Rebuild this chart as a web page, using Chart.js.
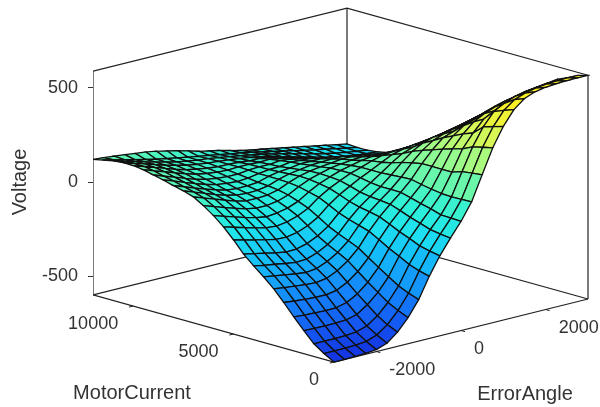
<!DOCTYPE html>
<html>
<head>
<meta charset="utf-8">
<title>Voltage surface</title>
<script src="https://cdn.jsdelivr.net/npm/chart.js@4"></script>
<style>
    html, body { margin: 0; background: #fff; }
    #wrap { width: 600px; height: 407px; }
</style>
</head>
<body>
<div id="wrap"><canvas id="graphCanvas" width="600" height="407"></canvas></div>
<script>
var motorCurrent = [0,500,1000,1500,2000,2500,3000,3500,4000,4500,5000,5500,6000,6500,7000,7500,8000,8500,9000,9500,10000,10500,11000,11500,12000];
var errorAngle = [-3000,-2750,-2500,-2250,-2000,-1750,-1500,-1250,-1000,-750,-500,-250,0,250,500,750,1000,1250,1500,1750,2000,2250,2500,2750,3000];
var voltageTicks = [-500, 0, 500];
var currentTicks = [0, 5000, 10000];
var angleTicks = [-2000, 0, 2000];

// one row per motorCurrent, one column per errorAngle
var voltage = [
    [-600,-600,-598,-596,-590,-570,-525,-462,-380,-270,-175,-95,-20,70,200,330,430,505,550,572,582,587,589,590,590],
    [-570,-570,-569,-567,-561,-541,-500,-439,-361,-256,-165,-88,-17,69,194,318,414,486,529,550,563,570,573,575,575],
    [-533,-533,-533,-531,-526,-508,-468,-411,-337,-237,-152,-79,-15,67,187,305,397,465,495,518,530,537,541,545,548],
    [-478,-480,-480,-480,-477,-462,-424,-372,-303,-208,-128,-61,2,70,170,280,350,410,440,465,485,495,505,515,525],
    [-420,-424,-426,-428,-427,-413,-381,-333,-268,-181,-107,-44,15,78,170,265,330,380,410,432,450,462,472,482,490],
    [-358,-364,-369,-372,-373,-363,-334,-291,-232,-150,-81,-23,31,88,170,248,305,345,365,390,408,422,432,445,455],
    [-300,-308,-314,-320,-323,-314,-288,-249,-195,-120,-57,-4,45,100,170,230,280,300,320,338,355,370,385,400,418],
    [-252,-260,-269,-277,-284,-277,-253,-219,-171,-103,-45,2,46,98,160,212,250,272,285,300,315,330,345,362,378],
    [-208,-219,-227,-237,-245,-242,-222,-192,-149,-87,-35,7,46,94,147,192,222,240,250,262,275,290,305,320,337],
    [-160,-172,-183,-195,-205,-203,-188,-161,-123,-67,-20,16,52,90,130,165,185,200,212,222,233,248,262,278,295],
    [-100,-114,-127,-141,-153,-155,-144,-122,-89,-39,1,33,63,90,118,145,160,168,170,178,188,200,215,232,250],
    [-45,-61,-77,-92,-106,-111,-103,-85,-58,-14,20,47,72,90,110,125,132,135,135,140,150,162,175,190,208],
    [0,-18,-35,-53,-67,-76,-70,-58,-36,0,30,52,72,85,98,105,105,100,100,105,115,125,135,150,166],
    [38,19,0,-18,-35,-45,-45,-36,-17,13,38,55,70,78,85,88,85,78,72,75,82,92,100,112,125],
    [70,49,30,10,-9,-21,-22,-18,-5,20,40,53,62,68,75,75,68,58,50,48,50,55,62,72,85],
    [87,66,46,25,7,-5,-10,-8,2,22,37,46,55,58,60,60,50,40,30,22,18,18,22,32,45],
    [100,80,59,39,21,6,0,1,6,23,34,39,48,48,48,42,32,18,5,-5,-12,-15,-12,-2,10],
    [115,95,74,54,35,20,13,9,13,23,31,33,42,38,35,25,12,-5,-22,-35,-42,-45,-42,-35,-25],
    [127,106,87,67,48,33,25,20,20,27,30,29,36,30,20,5,-12,-40,-65,-75,-78,-78,-72,-66,-60],
    [140,120,101,81,62,46,36,29,26,29,29,26,28,20,8,-10,-28,-50,-75,-90,-98,-102,-100,-95,-90],
    [147,128,109,90,71,55,44,35,29,28,25,19,18,10,-2,-20,-38,-58,-75,-92,-105,-115,-118,-118,-118],
    [148,130,113,95,78,63,50,41,33,29,23,16,8,-2,-15,-30,-45,-60,-75,-90,-102,-115,-120,-125,-130],
    [142,126,111,95,80,66,53,43,34,28,20,11,2,-7,-17,-30,-44,-58,-72,-86,-98,-110,-120,-128,-136],
    [132,119,106,92,79,67,56,45,36,26,17,7,-3,-12,-22,-34,-46,-58,-70,-82,-93,-104,-115,-126,-136],
    [120,116,110,104,96,90,80,68,55,40,24,12,0,-14,-27,-38,-48,-59,-69,-80,-90,-101,-111,-122,-132]
];

var currentMax = 12000;
var angleMin = -3000;
var angleMax = 3000;
var voltageMin = -600;
var voltageMax = 590;

// colormap stops: voltage, r, g, b
var colorStops = [
    [-600, 20, 50, 225], [-500, 20, 85, 240], [-400, 20, 120, 250], [-300, 20, 155, 250],
    [-200, 20, 190, 250], [-100, 30, 225, 240], [0, 45, 240, 215], [100, 90, 245, 180],
    [200, 140, 250, 150], [300, 190, 250, 110], [400, 225, 245, 75], [500, 250, 240, 40], [600, 255, 240, 30]
];

function colorFor(v) {
    for (var k = 1; k < colorStops.length; k++) {
        if (v <= colorStops[k][0]) {
            var a = colorStops[k - 1], b = colorStops[k];
            var t = Math.max(0, (v - a[0]) / (b[0] - a[0]));
            return "rgb(" + [1, 2, 3].map(function (c) {
                return Math.round(a[c] + (b[c] - a[c]) * t);
            }).join(",") + ")";
        }
    }
    return "rgb(255,240,30)";
}

// oblique view: the x scale runs in screen units, the y scale in volts at the left edge
function project(current, angle, volts) {
    var u = (angle - angleMin) / (angleMax - angleMin);
    var v = current / currentMax;
    return {
        x: 334 + 254 * u - 241 * v,
        y: volts + 600 - 957.4 + 335 * u + 357.4 * v
    };
}

function lineSet(points, width, color) {
    return {
        data: points,
        showLine: true,
        fill: false,
        borderColor: color,
        borderWidth: width,
        pointRadius: 0,
        tension: 0
    };
}

var datasets = [];

// first dataset is painted last, so the front corner of the surface goes first
for (var i = 0; i < motorCurrent.length - 1; i++) {
    for (var j = 0; j < errorAngle.length - 1; j++) {
        var z00 = voltage[i][j], z01 = voltage[i][j + 1];
        var z10 = voltage[i + 1][j], z11 = voltage[i + 1][j + 1];
        var cell = [
            project(motorCurrent[i], errorAngle[j], z00),
            project(motorCurrent[i], errorAngle[j + 1], z01),
            project(motorCurrent[i + 1], errorAngle[j + 1], z11),
            project(motorCurrent[i + 1], errorAngle[j], z10),
            project(motorCurrent[i], errorAngle[j], z00)
        ];
        var ds = lineSet(cell, 1.3, "#101010");
        ds.fill = "shape";
        ds.backgroundColor = colorFor((z00 + z01 + z10 + z11) / 4);
        datasets.push(ds);
    }
}

// box around the plot
var boxColor = "#222";
var corners = [
    [currentMax, angleMin], [currentMax, angleMax], [0, angleMax]
];
corners.forEach(function (c) {
    datasets.push(lineSet([project(c[0], c[1], voltageMin), project(c[0], c[1], voltageMax)], 1.2, boxColor));
});
datasets.push(lineSet([
    project(currentMax, angleMin, voltageMax),
    project(currentMax, angleMax, voltageMax),
    project(0, angleMax, voltageMax)
], 1.2, boxColor));
datasets.push(lineSet([
    project(currentMax, angleMin, voltageMin),
    project(currentMax, angleMax, voltageMin),
    project(0, angleMax, voltageMin)
], 1.2, boxColor));
datasets.push(lineSet([
    project(currentMax, angleMin, voltageMin),
    project(0, angleMin, voltageMin),
    project(0, angleMax, voltageMin)
], 1.2, boxColor));

// tick marks on the floor edges
currentTicks.forEach(function (c) {
    datasets.push(lineSet([project(c, angleMin, voltageMin), project(c, angleMin - 100, voltageMin)], 1, boxColor));
});
angleTicks.forEach(function (a) {
    datasets.push(lineSet([project(0, a, voltageMin), project(-200, a, voltageMin)], 1, boxColor));
});

// the two floor axes are not cartesian, so their labels are placed from the projection
var floorLabels = {
    id: "floorLabels",
    afterDraw: function (chart) {
        var ctx = chart.ctx, sx = chart.scales.x, sy = chart.scales.y;
        ctx.save();
        ctx.fillStyle = "#333";
        ctx.textBaseline = "middle";
        ctx.font = "18px 'Liberation Sans'";
        ctx.textAlign = "right";
        currentTicks.forEach(function (c) {
            var p = project(c, angleMin, voltageMin);
            ctx.fillText(String(c), sx.getPixelForValue(p.x) - 15, sy.getPixelForValue(p.y) + 18);
        });
        ctx.textAlign = "left";
        angleTicks.forEach(function (a) {
            var p = project(0, a, voltageMin);
            ctx.fillText(String(a), sx.getPixelForValue(p.x) + 13, sy.getPixelForValue(p.y) + 19);
        });
        ctx.font = "20px 'Liberation Sans'";
        ctx.textAlign = "center";
        ctx.fillText("MotorCurrent", 132, 393);
        ctx.fillText("ErrorAngle", 525, 394);
        ctx.restore();
    }
};

new Chart(document.getElementById("graphCanvas"), {
    type: "scatter",
    data: { datasets: datasets },
    plugins: [floorLabels],
    options: {
        responsive: false,
        animation: false,
        events: [],
        layout: { padding: { top: 0, left: 0, right: 10, bottom: 43 } },
        plugins: { legend: { display: false }, tooltip: { enabled: false } },
        scales: {
            x: { type: "linear", display: false, min: 93, max: 590 },
            y: {
                type: "linear",
                min: -968,
                max: 968,
                afterBuildTicks: function (scale) {
                    scale.ticks = voltageTicks.map(function (v) { return { value: v }; });
                },
                afterFit: function (scale) {
                    scale.width = 93;
                    scale.paddingTop = 0;
                    scale.paddingBottom = 0;
                },
                border: { display: false },
                grid: { drawOnChartArea: false, tickLength: 5, tickColor: "#333" },
                ticks: {
                    padding: 10,
                    color: "#333",
                    font: { family: "'Liberation Sans'", size: 18 }
                },
                title: {
                    display: true,
                    text: "Voltage",
                    color: "#333",
                    padding: { top: 8, bottom: 0 },
                    font: { family: "'Liberation Sans'", size: 20 }
                }
            }
        }
    }
});
</script>
</body>
</html>
